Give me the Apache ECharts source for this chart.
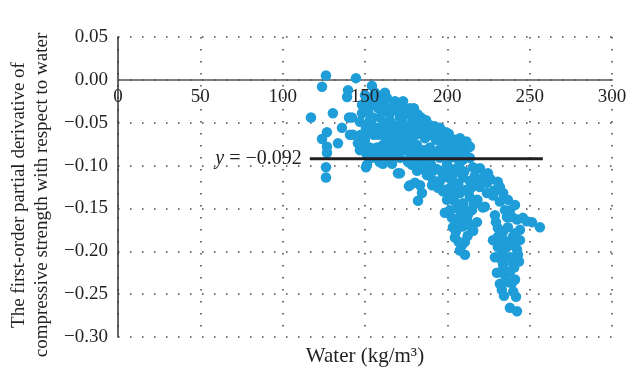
<!DOCTYPE html>
<html>
<head>
<meta charset="utf-8">
<script src="https://cdn.jsdelivr.net/npm/echarts@6/dist/echarts.min.js"></script>
<style>html,body{margin:0;padding:0;background:#fff}#c{width:629px;height:374px}</style>
</head>
<body>
<div id="c"></div>
<script>
// [water (kg/m3), first-order partial derivative]
const leftPoints = [
  [126.3,0.005],[123.9,-0.008],[144.5,0.002],[139.7,-0.012],[139.1,-0.020],[117.2,-0.044],
  [130.5,-0.039],[140.3,-0.044],[136.0,-0.056],[126.9,-0.061],[123.9,-0.069],[133.6,-0.074],
  [140.9,-0.064],[147.6,-0.064],[154.2,-0.007],[126.9,-0.078],[126.9,-0.085],[126.3,-0.102],
  [126.3,-0.114],[150.6,-0.102],[160.9,-0.098],[170.0,-0.109],[176.7,-0.124],[182.2,-0.141],
  [142.1,-0.044],[142.7,-0.064],[148.8,-0.065],[153.0,-0.079],[151.2,-0.099]
];
const upperCluster = [
  [162.1,-0.015],[168.2,-0.025],[173.1,-0.025],[177.3,-0.033],[153.0,-0.029],[154.8,-0.044],
  [171.2,-0.109],[177.3,-0.123],[183.4,-0.123],[184.6,-0.132],[190.7,-0.123],[195.5,-0.118],
  [201.6,-0.126],[207.7,-0.068],[208.9,-0.079],[212.5,-0.079],[213.7,-0.091],[189.4,-0.053],
  [195.5,-0.056],[186.4,-0.068],[189.4,-0.079],[197.3,-0.076],[181.6,-0.076],[173.1,-0.060],
  [167.0,-0.068],[160.9,-0.076],[159.1,-0.056],[165.2,-0.048],[171.2,-0.044],[179.1,-0.048],
  [177.3,-0.041],[183.4,-0.056],[160.9,-0.036],[157.3,-0.021],[163.3,-0.021],[169.4,-0.036],
  [151.2,-0.088],[157.3,-0.079],[165.2,-0.083],[171.2,-0.091],[177.3,-0.091],[183.4,-0.091],
  [189.4,-0.091],[195.5,-0.091],[201.6,-0.091],[191.3,-0.106],[197.3,-0.111],[187.6,-0.111],
  [181.6,-0.106],[205.8,-0.103],[209.5,-0.114],[203.4,-0.118],[213.7,-0.118],[194.3,-0.126],
  [197.3,-0.130],
  [150.0,-0.018],[148.2,-0.029],[148.2,-0.039],[146.9,-0.049],[150.6,-0.056],[153.0,-0.047],
  [157.9,-0.033],[159.1,-0.044],[164.0,-0.033],[166.4,-0.058],[170.0,-0.053],[174.3,-0.070],
  [177.3,-0.058],[179.7,-0.082],[184.0,-0.044],[188.2,-0.065],[193.1,-0.070],[200.4,-0.070],
  [202.8,-0.082],[193.1,-0.084],[185.8,-0.082],[174.9,-0.082],[168.8,-0.076],[155.4,-0.064],
  [154.2,-0.091],[162.7,-0.090],[146.9,-0.082],[145.7,-0.074],[156.7,-0.056],[162.7,-0.068],
  [173.1,-0.037],[180.9,-0.064],[199.2,-0.061],[204.6,-0.070],[209.5,-0.093],[206.4,-0.107],
  [199.8,-0.099],[178.5,-0.099],[186.4,-0.099],[166.4,-0.098],[151.8,-0.037],[150.0,-0.070],
  [160.3,-0.063],[185.2,-0.049],[197.3,-0.064],[200.4,-0.076],[179.7,-0.033],[170.0,-0.085],
  [191.3,-0.117],[180.3,-0.120],
  [152.5,-0.022],[156.1,-0.015],[158.4,-0.027],[161.8,-0.028],[164.9,-0.040],[167.6,-0.030],
  [170.8,-0.031],[172.4,-0.045],[175.6,-0.036],[174.0,-0.052],[178.8,-0.053],[181.9,-0.040],
  [185.7,-0.059],[187.1,-0.047],[190.5,-0.060],[192.3,-0.054],[194.6,-0.066],[197.9,-0.070],
  [200.9,-0.063],[203.5,-0.075],[206.1,-0.080],[210.8,-0.086],[211.6,-0.072],[205.3,-0.091],
  [199.0,-0.083],[195.9,-0.080],[191.9,-0.088],[187.2,-0.089],[182.4,-0.085],[178.0,-0.074],
  [175.7,-0.064],[171.5,-0.070],[168.0,-0.061],[164.3,-0.054],[161.5,-0.050],[158.2,-0.064],
  [154.0,-0.053],[150.9,-0.062],[148.5,-0.072],[152.3,-0.080],[156.0,-0.087],[159.8,-0.085],
  [163.9,-0.078],[167.8,-0.087],[172.9,-0.080],[176.2,-0.096],[181.1,-0.095],[185.3,-0.104],
  [190.0,-0.098],[193.6,-0.104],[202.1,-0.104],[207.6,-0.097],[158.9,-0.096],[164.6,-0.062]
];
const lowerBand = [
  [213.7,-0.078],[207.7,-0.074],[207.7,-0.085],[215.6,-0.102],[219.8,-0.103],[224.7,-0.109],
  [224.1,-0.120],[230.7,-0.119],[231.9,-0.125],[224.1,-0.132],[231.9,-0.142],[236.8,-0.140],
  [241.1,-0.146],[238.0,-0.152],[222.8,-0.148],[236.2,-0.160],[242.3,-0.163],[245.9,-0.161],
  [251.4,-0.166],[256.2,-0.172],[230.7,-0.173],[236.8,-0.172],[230.7,-0.183],[239.8,-0.183],
  [244.1,-0.187],[230.7,-0.195],[236.2,-0.195],[242.3,-0.198],[228.9,-0.207],[236.2,-0.207],
  [242.9,-0.204],[233.8,-0.216],[239.8,-0.214],[230.1,-0.225],[238.0,-0.224],[241.1,-0.233],
  [231.9,-0.238],[239.2,-0.237],[234.4,-0.252],[241.7,-0.253],[238.0,-0.266],[242.3,-0.270],
  [198.5,-0.074],[198.5,-0.105],[197.3,-0.128],[199.8,-0.140],[198.5,-0.155],[205.8,-0.132],
  [209.5,-0.144],[211.9,-0.128],[213.7,-0.137],[207.7,-0.160],[203.4,-0.172],[211.9,-0.163],
  [218.0,-0.166],[204.6,-0.184],[210.7,-0.189],[208.9,-0.193],[210.7,-0.204],[215.0,-0.125],
  [215.0,-0.152],[221.6,-0.149],[201.6,-0.152],[205.2,-0.177],[233.8,-0.177],[239.2,-0.192],
  [233.2,-0.201],[244.1,-0.175],[235.0,-0.152],[228.9,-0.158],[227.7,-0.135],[218.6,-0.117],
  [243.5,-0.212],[227.7,-0.187],[235.0,-0.228],[205.8,-0.163],[207.7,-0.132],[207.7,-0.146],
  [200.6,-0.114],[203.9,-0.109],[206.7,-0.122],[210.3,-0.107],[212.9,-0.131],[216.7,-0.112],
  [219.7,-0.125],[222.4,-0.113],[226.3,-0.116],[218.3,-0.140],[215.9,-0.146],[212.4,-0.158],
  [209.1,-0.171],[206.3,-0.150],[202.8,-0.161],[201.4,-0.134],[204.2,-0.141],[209.7,-0.150],
  [213.2,-0.170],[215.7,-0.176],[212.3,-0.182],[206.9,-0.189],[207.6,-0.199],[228.3,-0.129],
  [233.9,-0.132],[239.3,-0.160],[229.5,-0.166],[233.5,-0.185],[231.7,-0.191],[237.9,-0.189],
  [241.3,-0.179],[238.4,-0.207],[232.5,-0.209],[240.6,-0.219],[234.3,-0.221],[236.9,-0.236],
  [233.1,-0.245],[240.0,-0.247],[248.1,-0.165]
];
const xTicks = [0, 50, 100, 150, 200, 250, 300];
const meanLine = [[116.5,-0.092],[258,-0.092]];
const xTitle = 'Water (kg/m³)';
const yTitle = 'The first-order partial derivative of\ncompressive strength with respect to water';

const serif = 'Liberation Serif';
const txt = '#231f20';
const dotted = {type:[1.5,10.5], color:'#444', width:1.5};
const chart = echarts.init(document.getElementById('c'));
chart.setOption({
  animation:false,
  grid:{left:118,right:17,top:37,bottom:37,outerBoundsMode:'none',containLabel:false},
  xAxis:{
    type:'value',min:0,max:300,interval:50,
    axisLine:{show:true,onZero:true,lineStyle:{color:'#555',width:1.5}},
    axisTick:{show:false},
    axisLabel:{show:false},
    splitLine:{show:true,lineStyle:dotted}
  },
  yAxis:{
    type:'value',min:-0.3,max:0.05,interval:0.05,
    axisLine:{show:true,lineStyle:{color:'#333',width:1.5}},
    axisTick:{show:false},
    axisLabel:{color:txt,fontFamily:serif,fontSize:19,margin:10,
      formatter:v=>{const r=Math.round(v*100);return (r<0?'−':'')+(Math.abs(r)/100).toFixed(2);}},
    splitLine:{show:true,lineStyle:dotted},
    name:yTitle,nameLocation:'middle',nameGap:63,
    nameTextStyle:{color:txt,fontFamily:serif,fontSize:19,lineHeight:23,padding:[0,16,0,0]}
  },
  graphic:[{type:'text',x:365,y:356,style:{text:xTitle,textAlign:'center',textVerticalAlign:'middle',fontFamily:serif,fontSize:21,fill:txt}}],
  series:[
    {type:'scatter',data:leftPoints.concat(upperCluster,lowerBand),symbolSize:10.5,itemStyle:{color:'#1f9dd8',opacity:1},z:2},
    {type:'line',z:3,symbol:'circle',symbolSize:0.1,showSymbol:true,
      lineStyle:{color:txt,width:3},itemStyle:{color:txt},
      data:[{value:meanLine[0],label:{show:true,position:'left',distance:8,
        formatter:'{i|y} = −0.092',color:txt,fontFamily:serif,fontSize:20,
        rich:{i:{fontStyle:'italic',fontFamily:serif,fontSize:20,color:txt}}}},meanLine[1]]},
    {type:'scatter',z:5,silent:true,symbolSize:1,itemStyle:{color:'#555',opacity:1},
      data:xTicks.map(v=>[v,0]),
      label:{show:true,position:'bottom',distance:7,formatter:p=>String(p.value[0]),
        color:txt,opacity:1,fontFamily:serif,fontSize:19}}
  ]
});
</script>
</body>
</html>
